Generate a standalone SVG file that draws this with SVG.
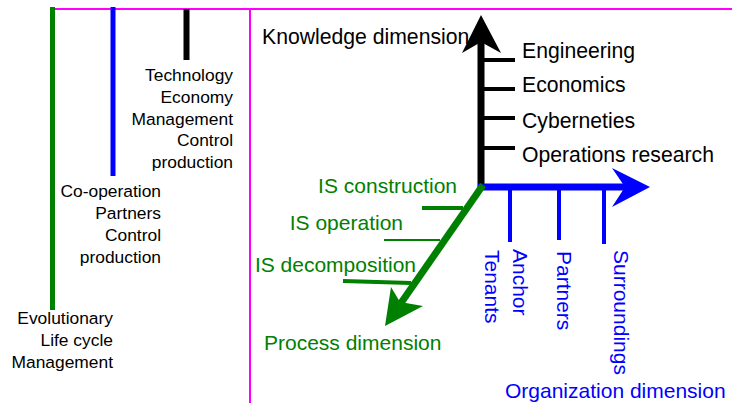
<svg xmlns="http://www.w3.org/2000/svg" width="732" height="403" viewBox="0 0 732 403">
<style>
text{font-family:"Liberation Sans",Arial,sans-serif}
.l{font-size:17.4px;fill:#000;text-anchor:end}
.r{font-size:21.2px;fill:#000}
.g{font-size:21px;fill:#008000}
.b{font-size:21px;fill:#0000ff}
.mg{stroke:#ff00ff;stroke-width:2;fill:none}
</style>
<rect width="732" height="403" fill="#fff"/>
<g id="frame">
<line class="mg" x1="52" y1="9" x2="732" y2="9"/>
<line class="mg" x1="250" y1="9" x2="250" y2="403"/>
</g>
<g id="scale-technology">
<line x1="186.5" y1="9" x2="186.5" y2="60" stroke="#000" stroke-width="6"/>
<text class="l" x="233" y="81">Technology</text>
<text class="l" x="233" y="103">Economy</text>
<text class="l" x="233" y="125">Management</text>
<text class="l" x="233" y="146">Control</text>
<text class="l" x="233" y="168">production</text>
</g>
<g id="scale-cooperation">
<line x1="113" y1="7" x2="113" y2="176" stroke="#0000ff" stroke-width="5"/>
<text class="l" x="161" y="197">Co-operation</text>
<text class="l" x="161" y="219">Partners</text>
<text class="l" x="161" y="241">Control</text>
<text class="l" x="161" y="263">production</text>
</g>
<g id="scale-evolutionary">
<line x1="52.5" y1="7" x2="52.5" y2="310" stroke="#008000" stroke-width="5"/>
<text class="l" x="113" y="324">Evolutionary</text>
<text class="l" x="113" y="346">Life cycle</text>
<text class="l" x="113" y="368">Management</text>
</g>
<g id="connectors">
<line x1="481" y1="190" x2="481" y2="40" stroke="#000" stroke-width="7"/>
<polygon points="481,15 501,53 481,42 462,53" fill="#000"/>
<g stroke="#000" stroke-width="4">
<line x1="481" y1="60" x2="515" y2="60"/>
<line x1="481" y1="89" x2="515" y2="89"/>
<line x1="481" y1="118" x2="515" y2="118"/>
<line x1="481" y1="148" x2="515" y2="148"/>
</g>
<line x1="478" y1="187" x2="628" y2="187" stroke="#0000ff" stroke-width="7"/>
<polygon points="650,187 612,168 625,187 612,207" fill="#0000ff"/>
<g stroke="#0000ff" stroke-width="4">
<line x1="510" y1="187" x2="510" y2="242"/>
<line x1="559" y1="187" x2="559" y2="240"/>
<line x1="604" y1="187" x2="604" y2="244"/>
</g>
<line x1="483" y1="185" x2="401" y2="303" stroke="#008000" stroke-width="7"/>
<polygon points="385,326 391,287 400,302 423,306" fill="#008000"/>
<line x1="422" y1="208" x2="463" y2="208" stroke="#008000" stroke-width="4"/>
<line x1="384" y1="240" x2="440" y2="240" stroke="#008000" stroke-width="2"/>
<line x1="343" y1="281" x2="411" y2="283" stroke="#008000" stroke-width="4"/>
</g>
<g id="knowledge-dimension">
<text class="r" x="262" y="44">Knowledge dimension</text>
<text class="r" x="522" y="58">Engineering</text>
<text class="r" x="522" y="92">Economics</text>
<text class="r" x="522" y="128">Cyberneties</text>
<text class="r" x="522" y="162">Operations research</text>
</g>
<g id="process-dimension">
<text class="g" x="457" y="193" text-anchor="end">IS construction</text>
<text class="g" x="403" y="230" text-anchor="end">IS operation</text>
<text class="g" x="416" y="272" text-anchor="end">IS decomposition</text>
<text class="g" x="264" y="350">Process dimension</text>
</g>
<g id="organization-dimension">
<text class="b" transform="translate(485,250) rotate(90)">Tenants</text>
<text class="b" transform="translate(513,249) rotate(90)">Anchor</text>
<text class="b" transform="translate(557,251) rotate(90)">Partners</text>
<text class="b" transform="translate(614,250) rotate(90)">Surroundings</text>
<text class="b" x="505" y="398">Organization dimension</text>
</g>
</svg>
